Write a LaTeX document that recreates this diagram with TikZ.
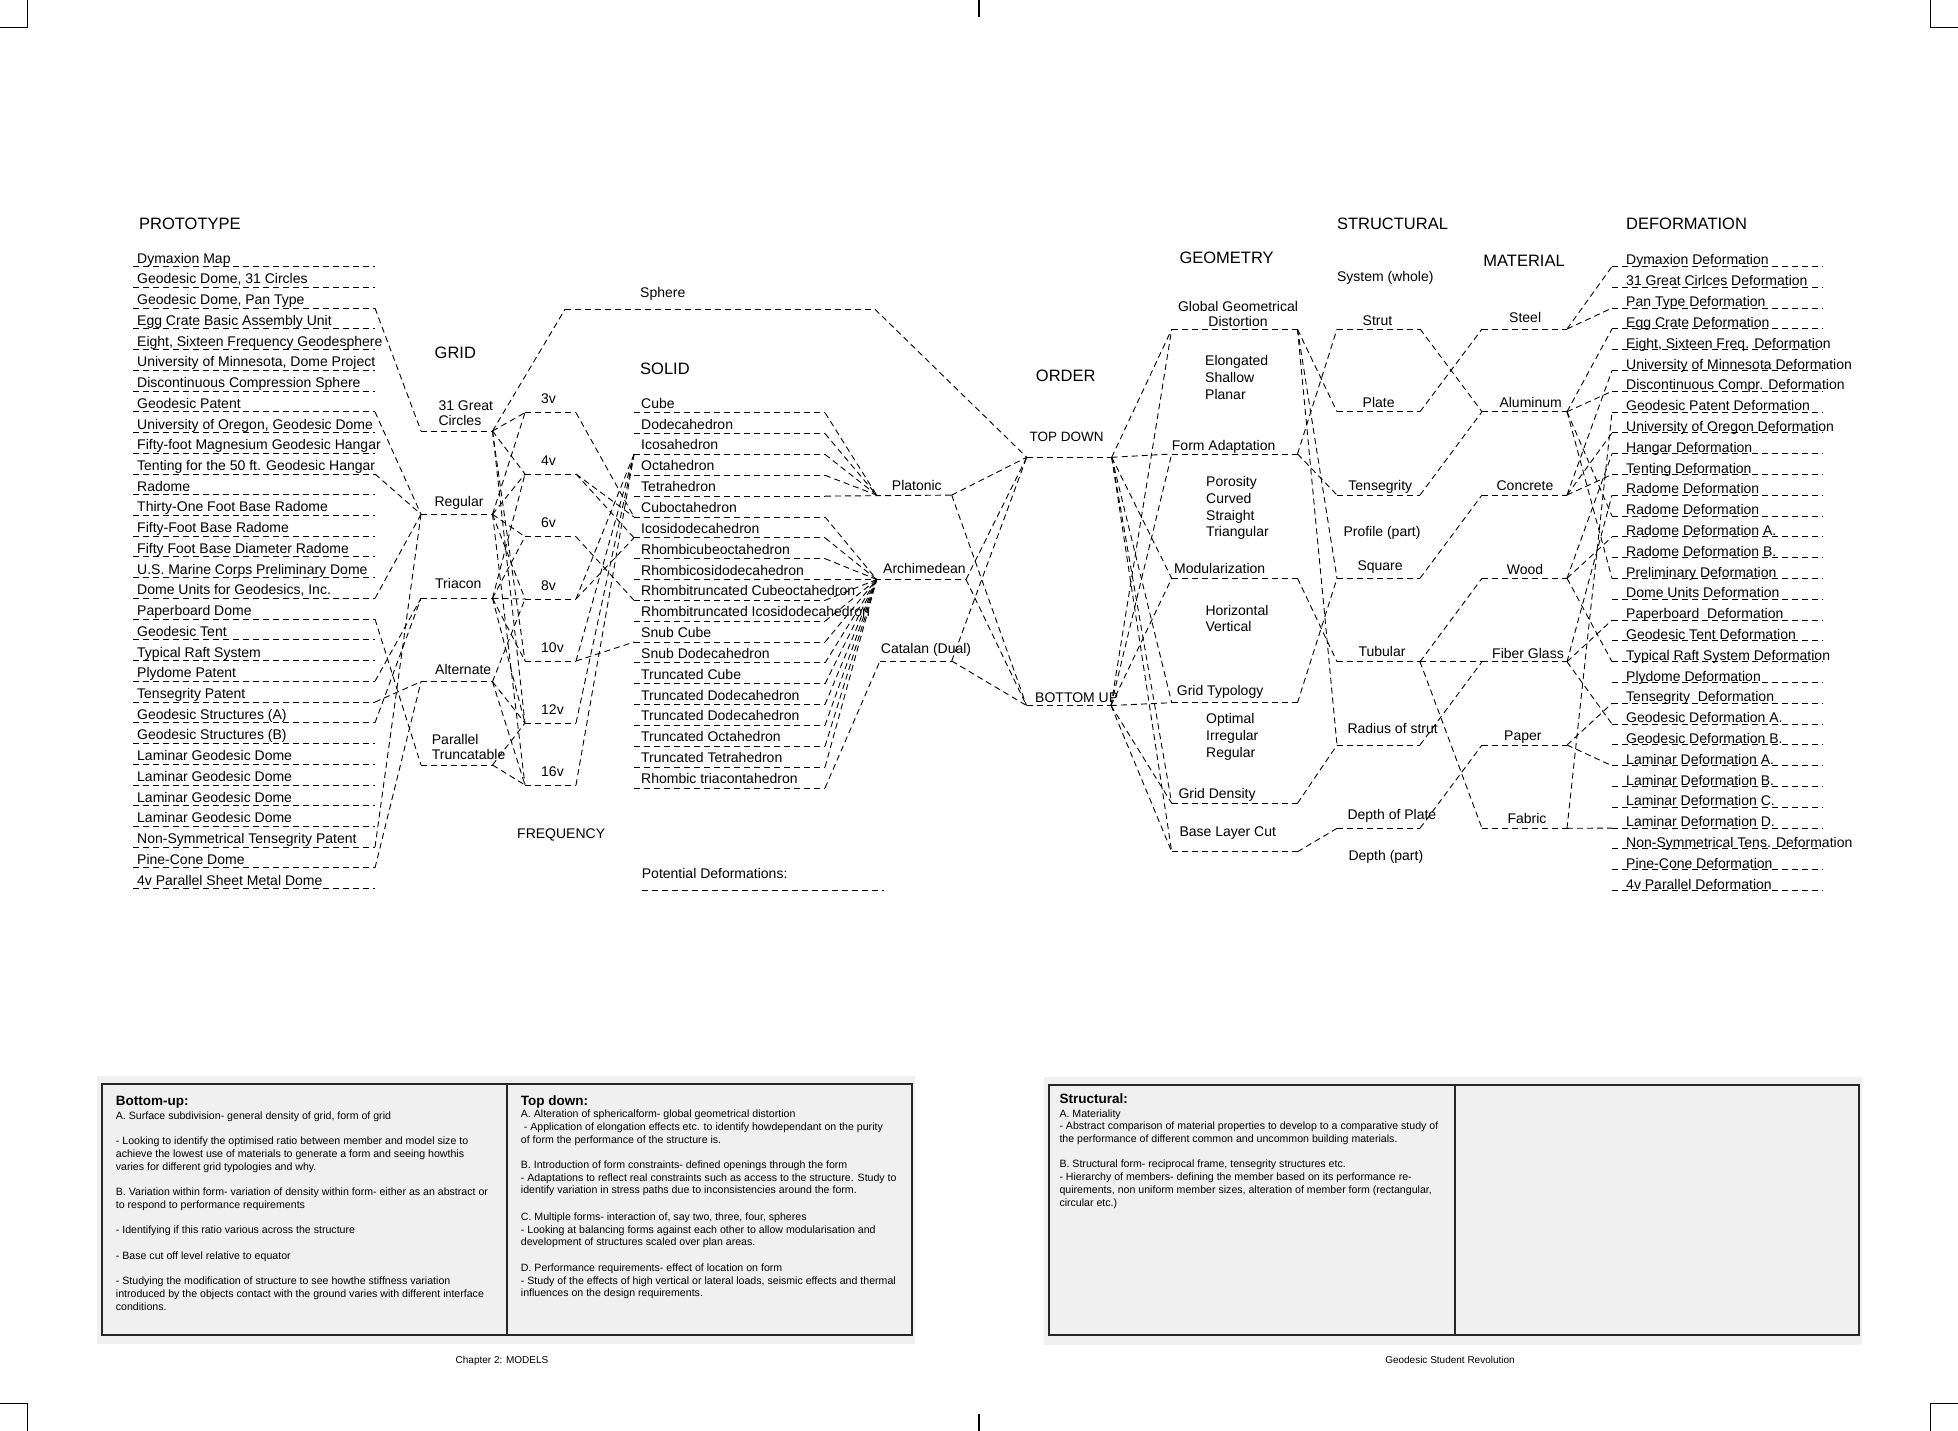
\documentclass[tikz,border=0pt]{standalone}
\usepackage{fontspec}
\setmainfont{Liberation Sans}
\usetikzlibrary{calc}
\newcommand\lblsize{\fontsize{14}{16.7}\selectfont}
\newcommand\hdsize{\fontsize{16.5}{19}\selectfont}
\newcommand\boxsize{\fontsize{10.6}{12.7}\selectfont}
\newcommand\boxhdsize{\fontsize{13.5}{14}\selectfont\bfseries}
\begin{document}
\begin{tikzpicture}[x=1pt,y=-1pt,
    every node/.style={inner sep=0pt, anchor=base west, font=\lblsize},
    head/.style={font=\hdsize},
    dl/.style={dash pattern=on 6pt off 4pt, line width=0.9pt},
    crop/.style={line width=1.2pt},
    frame/.style={line width=1.8pt, black!85},
    boxtxt/.style={font=\boxsize, align=left},
    boxhd/.style={font=\boxhdsize},
    capt/.style={font=\fontsize{10}{12}\selectfont, anchor=base}
  ]
  \useasboundingbox (0,0) rectangle (1958,1431);
  % crop marks
  \draw[crop] (0,27.5) -- (27.5,27.5) -- (27.5,0);
  \draw[crop] (979,0) -- (979,17.5);
  \draw[crop] (1930.5,0) -- (1930.5,27.5) -- (1958,27.5);
  \draw[crop] (0,1403.5) -- (27.5,1403.5) -- (27.5,1431);
  \draw[crop] (979,1413.5) -- (979,1431);
  \draw[crop] (1958,1403.5) -- (1930.5,1403.5) -- (1930.5,1431);

  % headers
  \node[head] (hProto) at (139,229.3) {PROTOTYPE};
  \node[head] (hGrid) at (434.5,358) {GRID};
  \node[head] (hSolid) at (640,374) {SOLID};
  \node[head] (hOrder) at (1035.7,381.7) {ORDER};
  \node[head] (hGeo) at (1179.3,263.3) {GEOMETRY};
  \node[head] (hStruct) at (1336.8,229.3) {STRUCTURAL};
  \node[head] (hMat) at (1483.2,266.7) {MATERIAL};
  \node[head] (hDef) at (1626,229.3) {DEFORMATION};
  \node (hFreq) at (517,838) {FREQUENCY};
  \node (hSys) at (1336.8,281.7) {System (whole)};
  \node (hProf) at (1343.3,536.7) {Profile (part)};
  \node (hDepth) at (1348.3,860) {Depth (part)};

  % prototypes
  \foreach \t [count=\i from 0] in {Dymaxion Map, {Geodesic Dome, 31 Circles},
      {Geodesic Dome, Pan Type}, Egg Crate Basic Assembly Unit,
      {Eight, Sixteen Frequency Geodesphere}, {University of Minnesota, Dome Project},
      Discontinuous Compression Sphere, Geodesic Patent,
      {University of Oregon, Geodesic Dome}, Fifty-foot Magnesium Geodesic Hangar,
      Tenting for the 50 ft. Geodesic Hangar, Radome, Thirty-One Foot Base Radome,
      Fifty-Foot Base Radome, Fifty Foot Base Diameter Radome,
      U.S. Marine Corps Preliminary Dome, {Dome Units for Geodesics, Inc.},
      Paperboard Dome, Geodesic Tent, Typical Raft System, Plydome Patent,
      Tensegrity Patent, Geodesic Structures (A), Geodesic Structures (B),
      Laminar Geodesic Dome, Laminar Geodesic Dome, Laminar Geodesic Dome,
      Laminar Geodesic Dome, Non-Symmetrical Tensegrity Patent, Pine-Cone Dome,
      4v Parallel Sheet Metal Dome}{
    \pgfmathsetmacro\yy{266.7+20.73*\i}
    \coordinate (pl\i) at (133,\yy);
    \coordinate (pr\i) at (375,\yy);
    \draw[dl] (pl\i) -- (pr\i);
    \node (pt\i) at (137,\yy-3.5) {\t};
  }

  % grid
  \foreach \n/\y in {gcir/431, greg/514.3, gtri/598.3, galt/681.7, gpar/765}{
    \coordinate (\n L) at (421,\y);
    \coordinate (\n R) at (492.5,\y);
    \draw[dl] (\n L) -- (\n R);
  }
  \node[align=left] (gcirT) at (438.3,425) {31 Great\\[-1.7pt]Circles};
  \node (gregT) at (434.3,506) {Regular};
  \node (gtriT) at (435,588.3) {Triacon};
  \node (galtT) at (435,674) {Alternate};
  \node[align=left] (gparT) at (431.7,759.3) {Parallel\\[-1.4pt]Truncatable};

  % frequency
  \foreach \v/\y in {3/412.7, 4/474, 6/536.7, 8/599, 10/661, 12/723, 16/785}{
    \coordinate (fl\v) at (525,\y);
    \coordinate (fr\v) at (576,\y);
    \draw[dl] (fl\v) -- (fr\v);
    \node (ft\v) at (541,\y-9) {\v v};
  }

  % sphere
  \node (sphT) at (640,297.3) {Sphere};
  \coordinate (sphL) at (565,309.3);
  \coordinate (sphR) at (875,309.3);
  \draw[dl] (sphL) -- (sphR);

  % solids
  \foreach \t [count=\j from 0] in {Cube, Dodecahedron, Icosahedron, Octahedron,
      Tetrahedron, Cuboctahedron, Icosidodecahedron, Rhombicubeoctahedron,
      Rhombicosidodecahedron, Rhombitruncated Cubeoctahedron,
      Rhombitruncated Icosidodecahedron, Snub Cube, Snub Dodecahedron,
      Truncated Cube, Truncated Dodecahedron, Truncated Dodecahedron,
      Truncated Octahedron, Truncated Tetrahedron, Rhombic triacontahedron}{
    \pgfmathsetmacro\yy{412.7+20.85*\j}
    \coordinate (sl\j) at (634,\yy);
    \coordinate (sr\j) at (825,\yy);
    \draw[dl] (sl\j) -- (sr\j);
    \node (st\j) at (641,\yy-4.5) {\t};
  }

  % platonic / archimedean / catalan
  \coordinate (platL) at (876.7,495.1);
  \coordinate (platR) at (951.7,495.1);
  \coordinate (archL) at (876.7,579.5);
  \coordinate (archR) at (966,579.5);
  \coordinate (catL) at (880,661);
  \coordinate (catR) at (951.7,661);
  \draw[dl] (sr4) -- (platR);
  \draw[dl] (sr8) -- (archR);
  \draw[dl] (catL) -- (catR);
  \node (platT) at (891.7,490) {Platonic};
  \node (archT) at (883,573.5) {Archimedean};
  \node (catT) at (880.7,653.3) {Catalan (Dual)};

  % order
  \coordinate (tdL) at (1026.7,457.3);
  \coordinate (tdR) at (1111.7,457.3);
  \coordinate (buL) at (1026.5,705.5);
  \coordinate (buR) at (1111,705.5);
  \draw[dl] (tdL) -- (tdR);
  \draw[dl] (buL) -- (buR);
  \node[font=\fontsize{13.5}{15}\selectfont] (tdT) at (1029.3,441.7) {TOP DOWN};
  \node (buT) at (1035,702) {BOTTOM UP};

  % geometry
  \foreach \n/\y in {glob/329.3, form/454, modu/578.3, gtyp/702.7, gden/803.3, base/851.7}{
    \coordinate (\n L) at (1171.7,\y);
    \coordinate (\n R) at (1297.5,\y);
    \draw[dl] (\n L) -- (\n R);
  }
  \node[anchor=base, align=center] (globT) at (1238,326.7) {Global Geometrical\\[-1.7pt]Distortion};
  \node[align=left] (elonT) at (1205,399) {Elongated\\Shallow\\Planar};
  \node (formT) at (1171.7,450) {Form Adaptation};
  \node[align=left] (poroT) at (1206,536.7) {Porosity\\Curved\\Straight\\Triangular};
  \node (moduT) at (1174,573.3) {Modularization};
  \node[align=left] (horiT) at (1205.3,631.7) {Horizontal\\Vertical};
  \node (gtypT) at (1176.7,695) {Grid Typology};
  \node[align=left] (optiT) at (1206,757.3) {Optimal\\Irregular\\Regular};
  \node (gdenT) at (1178.3,798.3) {Grid Density};
  \node (baseT) at (1179.3,836.7) {Base Layer Cut};

  % structural
  \foreach \n/\y in {strut/329, plate/411.7, tens/495, square/578.3, tub/661.7, rad/745, dep/828.3}{
    \coordinate (\n L) at (1337,\y);
    \coordinate (\n R) at (1420,\y);
    \draw[dl] (\n L) -- (\n R);
  }
  \node (strutT) at (1362.5,325) {Strut};
  \node (plateT) at (1362.5,407.3) {Plate};
  \node (tensT) at (1348.2,490) {Tensegrity};
  \node (squareT) at (1357.3,570) {Square};
  \node (tubT) at (1358.3,656) {Tubular};
  \node (radT) at (1347.3,733.3) {Radius of strut};
  \node (depT) at (1347.3,819.3) {Depth of Plate};

  % material
  \foreach \n/\y/\e in {steel/329/1567, alu/411.7/1567, conc/495/1567, wood/578.3/1567,
      fib/661.7/1567, paper/745/1567, fab/828.3/1567}{
    \coordinate (\n L) at (1482,\y);
    \coordinate (\n R) at (\e,\y);
    \draw[dl] (\n L) -- (\n R);
  }
  \node (steelT) at (1509,322.7) {Steel};
  \node (aluT) at (1499.3,407.3) {Aluminum};
  \node (concT) at (1496.4,490) {Concrete};
  \node (woodT) at (1506.7,574) {Wood};
  \node (fibT) at (1492,658) {Fiber Glass};
  \node (paperT) at (1504,740) {Paper};
  \node (fabT) at (1507.3,823.3) {Fabric};

  % deformation
  \foreach \t [count=\k from 0] in {Dymaxion Deformation, 31 Great Cirlces Deformation,
      Pan Type Deformation, Egg Crate Deformation, {Eight, Sixteen Freq. Deformation},
      University of Minnesota Deformation, Discontinuous Compr. Deformation,
      Geodesic Patent Deformation, University of Oregon Deformation, Hangar Deformation,
      Tenting Deformation, Radome Deformation, Radome Deformation,
      Radome Deformation A., Radome Deformation B., Preliminary Deformation,
      Dome Units Deformation, Paperboard\ \ Deformation, Geodesic Tent Deformation,
      Typical Raft System Deformation, Plydome Deformation, Tensegrity\ \ Deformation,
      Geodesic Deformation A., Geodesic Deformation B., Laminar Deformation A.,
      Laminar Deformation B., Laminar Deformation C., Laminar Deformation D.,
      Non-Symmetrical Tens. Deformation, Pine-Cone Deformation, 4v Parallel Deformation}{
    \pgfmathsetmacro\yy{265+20.8*\k}
    \coordinate (dl\k) at (1612,\yy+1.5);
    \coordinate (dr\k) at (1823,\yy+1.5);
    \draw[dl] (dl\k) -- (dr\k);
    \node (dt\k) at (1626,\yy) {\t};
  }

  % potential deformations
  \node (potT) at (641.7,878.3) {Potential Deformations:};
  \coordinate (potL) at (641.7,890);
  \coordinate (potR) at (884,890);
  \draw[dl] (potL) -- (potR);

  % connectors
  \foreach \a/\b in {pr2/gcirL, pr7/gregL, pr10/gregL, pr16/gregL, pr17/gparL,
      pr20/gtriL, pr21/galtL, pr22/gtriL, pr28/gregL, pr29/galtL}
    \draw[dl] (\a) -- (\b);
  \foreach \a/\b in {gcirR/fl3, gcirR/fl4, gcirR/fl10, gcirR/fl12,
      gregR/fl3, gregR/fl4, gregR/fl6, gregR/fl8, gregR/fl16,
      gtriR/fl4, gtriR/fl6, gtriR/fl8, gtriR/fl10, gtriR/fl12,
      galtR/fl8, galtR/fl12, galtR/fl16, gparR/fl12, gparR/fl16}
    \draw[dl] (\a) -- (\b);
  \foreach \a/\b in {fr3/sl5, fr4/sl5, fr4/sl6, fr6/sl9, fr8/sl6, fr8/sl2,
      fr10/sl2, fr10/sl11, fr12/sl2, fr16/sl2}
    \draw[dl] (\a) -- (\b);
  \foreach \j in {0,1,2,3} \draw[dl] (sr\j) -- (platL);
  \foreach \j in {5,6,7,9,10,11,12,13,14,15,16,17} \draw[dl] (sr\j) -- (archL);
  \draw[dl] (sr18) -- (catL);
  \draw[dl] (gcirR) -- (sphL);
  \draw[dl] (sphR) -- (tdL);
  \foreach \a in {platR, archR, catR}{
    \draw[dl] (\a) -- (tdL);
    \draw[dl] (\a) -- (buL);
  }
  \foreach \b in {glob, form, modu, gtyp, gden, base}{
    \draw[dl] (tdR) -- (\b L);
    \draw[dl] (buR) -- (\b L);
  }
  \foreach \a/\b in {glob/plate, glob/square, glob/rad, form/strut, form/tens,
      modu/tub, gtyp/square, gden/rad, base/dep}
    \draw[dl] (\a R) -- (\b L);
  \foreach \a/\b in {strut/alu, plate/steel, tens/alu, square/conc, tub/fib,
      tub/wood, tub/fab, rad/fib, dep/paper}
    \draw[dl] (\a R) -- (\b L);
  \foreach \a/\k in {steel/0, steel/2, alu/3, alu/6, alu/12, alu/15, conc/5, conc/8,
      conc/10, wood/9, wood/13, wood/19, fib/11, fib/17, fib/22, paper/21, paper/24,
      fab/7, fab/27}
    \draw[dl] (\a R) -- (dl\k);

  % text boxes
  \fill[black!6] (97,1076) rectangle (915,1344);
  \fill[black!6] (1044,1077) rectangle (1862,1345);
  \draw[frame] (102,1084) rectangle (912,1335);
  \draw[frame] (507,1084) -- (507,1335);
  \draw[frame] (1049,1085) rectangle (1859,1335);
  \draw[frame] (1455,1085) -- (1455,1335);

  \node[boxhd] (buHd) at (115.7,1105) {Bottom-up:};
  \node[boxtxt] (buTxt) at (115.7,1310) {A. Surface subdivision- general density of grid, form of grid\\[12.7pt]
    - Looking to identify the optimised ratio between member and model size to\\
    achieve the lowest use of materials to generate a form and seeing howthis\\
    varies for different grid typologies and why.\\[12.7pt]
    B. Variation within form- variation of density within form- either as an abstract or\\
    to respond to performance requirements\\[12.7pt]
    - Identifying if this ratio various across the structure\\[12.7pt]
    - Base cut off level relative to equator\\[12.7pt]
    - Studying the modification of structure to see howthe stiffness variation\\
    introduced by the objects contact with the ground varies with different interface\\
    conditions.};
  \node[boxhd] (tdHd) at (520.7,1105) {Top down:};
  \node[boxtxt] (tdTxt) at (520.7,1296.7) {A. Alteration of sphericalform- global geometrical distortion\\
    \ - Application of elongation effects etc. to identify howdependant on the purity\\
    of form the performance of the structure is.\\[12.7pt]
    B. Introduction of form constraints- defined openings through the form\\
    - Adaptations to reflect real constraints such as access to the structure. Study to\\
    identify variation in stress paths due to inconsistencies around the form.\\[14pt]
    C. Multiple forms- interaction of, say two, three, four, spheres\\
    - Looking at balancing forms against each other to allow modularisation and\\
    development of structures scaled over plan areas.\\[12.7pt]
    D. Performance requirements- effect of location on form\\
    - Study of the effects of high vertical or lateral loads, seismic effects and thermal\\
    influences on the design requirements.};
  \node[boxhd] (stHd) at (1059.3,1103.3) {Structural:};
  \node[boxtxt] (stTxt) at (1059.3,1206) {A. Materiality\\
    - Abstract comparison of material properties to develop to a comparative study of\\
    the performance of different common and uncommon building materials.\\[12.7pt]
    B. Structural form- reciprocal frame, tensegrity structures etc.\\
    - Hierarchy of members- defining the member based on its performance re-\\
    quirements, non uniform member sizes, alteration of member form (rectangular,\\
    circular etc.)};

  \node[capt] (capL) at (502,1363) {Chapter 2: MODELS};
  \node[capt] (capR) at (1450,1363) {Geodesic Student Revolution};
\end{tikzpicture}
\end{document}
